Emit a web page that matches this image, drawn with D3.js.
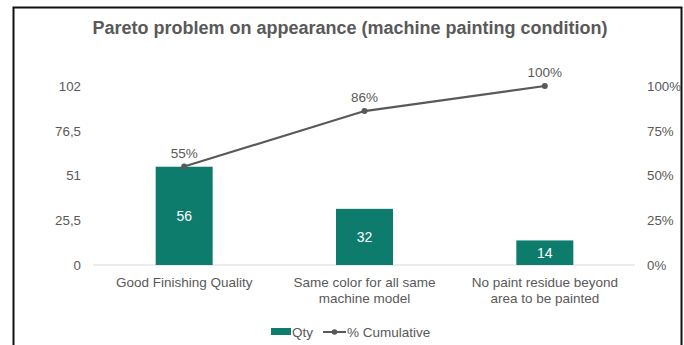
<!DOCTYPE html>
<html>
<head>
<meta charset="UTF-8">
<script src="https://d3js.org/d3.v7.min.js"></script>
<style>
    body { margin: 0; background: #fff; font-family: "Liberation Sans", Arial, sans-serif; }
    .tick text { fill: #595959; font-size: 13.3px; }
</style>
</head>
<body>
<svg id="chart" width="684" height="345"></svg>
<script>
    const categories = [
        ["Good Finishing Quality"],
        ["Same color for all same", "machine model"],
        ["No paint residue beyond", "area to be painted"]
    ];
    const qty = [56, 32, 14];
    const cumulative = [55, 86, 100];
    const leftTicks = [0, 25.5, 51, 76.5, 102];
    const rightTicks = [0, 25, 50, 75, 100];

    const svg = d3.select("#chart");
    const grey = "#595959";
    const teal = "#0e7c6c";

    // frame
    svg.append("path")
        .attr("d", "M13.5,345 V7.5 H681.5 V345")
        .attr("fill", "none")
        .attr("stroke", "#111")
        .attr("stroke-width", 2);

    svg.append("text")
        .attr("x", 350)
        .attr("y", 34)
        .attr("text-anchor", "middle")
        .style("font-size", "18px")
        .style("font-weight", "bold")
        .style("fill", grey)
        .text("Pareto problem on appearance (machine painting condition)");

    const x = d3.scaleBand()
        .domain(d3.range(qty.length))
        .range([94, 635])
        .paddingInner(0)
        .paddingOuter(0);

    const y = d3.scaleLinear().domain([0, 102]).range([265, 86]);
    const yp = d3.scaleLinear().domain([0, 100]).range([265, 86]);

    // baseline
    svg.append("line")
        .attr("x1", 93).attr("x2", 635)
        .attr("y1", y(0)).attr("y2", y(0))
        .attr("stroke", "#d9d9d9");

    const left = svg.append("g")
        .attr("transform", "translate(84,0)")
        .call(d3.axisLeft(y).tickValues(leftTicks).tickSize(0)
            .tickFormat(d => String(d).replace(".", ",")));
    left.select(".domain").remove();

    const right = svg.append("g")
        .attr("transform", "translate(644,0)")
        .call(d3.axisRight(yp).tickValues(rightTicks).tickSize(0).tickFormat(d => d + "%"));
    right.select(".domain").remove();

    const barW = 57;
    const cx = i => x(i) + x.bandwidth() / 2;

    svg.selectAll(".bar")
        .data(qty)
        .enter().append("rect")
        .attr("class", "bar")
        .attr("x", (d, i) => cx(i) - barW / 2)
        .attr("y", d => y(d))
        .attr("width", barW)
        .attr("height", d => y(0) - y(d))
        .attr("fill", teal);

    svg.selectAll(".val")
        .data(qty)
        .enter().append("text")
        .attr("x", (d, i) => cx(i))
        .attr("y", d => (y(d) + y(0)) / 2 + 5)
        .attr("text-anchor", "middle")
        .style("font-size", "14px")
        .style("fill", "#fff")
        .text(d => d);

    const line = d3.line().x((d, i) => cx(i)).y(d => yp(d));
    svg.append("path")
        .datum(cumulative)
        .attr("d", line)
        .attr("fill", "none")
        .attr("stroke", grey)
        .attr("stroke-width", 2.2);

    svg.selectAll(".pt")
        .data(cumulative)
        .enter().append("circle")
        .attr("cx", (d, i) => cx(i))
        .attr("cy", d => yp(d))
        .attr("r", 3)
        .attr("fill", grey);

    svg.selectAll(".pct")
        .data(cumulative)
        .enter().append("text")
        .attr("x", (d, i) => cx(i))
        .attr("y", d => yp(d) - 9)
        .attr("text-anchor", "middle")
        .style("font-size", "13.5px")
        .style("fill", grey)
        .text(d => d + "%");

    // category labels
    const cat = svg.selectAll(".cat")
        .data(categories)
        .enter().append("text")
        .attr("text-anchor", "middle")
        .style("font-size", "13.5px")
        .style("fill", grey);
    cat.selectAll("tspan")
        .data((d, i) => d.map(t => ({ t, i })))
        .enter().append("tspan")
        .attr("x", d => cx(d.i))
        .attr("y", (d, j) => 287 + j * 16)
        .text(d => d.t);

    // legend
    const lg = svg.append("g").attr("transform", "translate(0,332)");
    lg.append("rect").attr("x", 271).attr("y", -4).attr("width", 20).attr("height", 7).attr("fill", teal);
    lg.append("text").attr("x", 292).attr("y", 5).style("font-size", "13.5px").style("fill", grey).text("Qty");
    lg.append("line").attr("x1", 323).attr("x2", 346).attr("y1", 0).attr("y2", 0)
        .attr("stroke", grey).attr("stroke-width", 2);
    lg.append("circle").attr("cx", 334.5).attr("cy", 0).attr("r", 2.8).attr("fill", grey);
    lg.append("text").attr("x", 347).attr("y", 5).style("font-size", "13.5px").style("fill", grey).text("% Cumulative");
</script>
</body>
</html>
